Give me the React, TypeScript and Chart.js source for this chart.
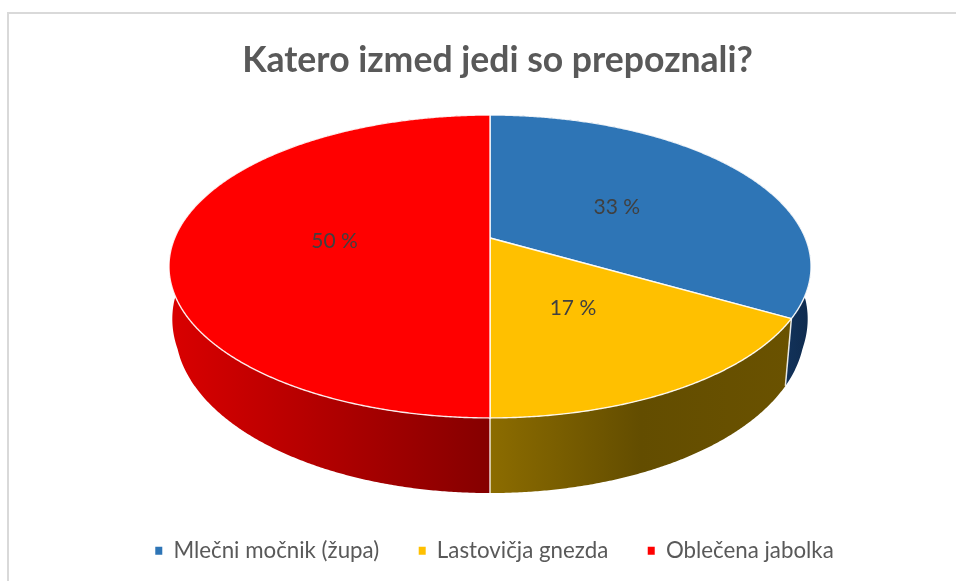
import React, { useEffect, useRef } from "react";
import { Chart, registerables } from "chart.js";

Chart.register(...registerables);

const categories = ["Mlečni močnik (župa)", "Lastovičja gnezda", "Oblečena jabolka"];
const shares = [33.33, 16.67, 50];
const sliceColors = ["#2E75B6", "#FFC000", "#FF0000"];
const wallStops = [
  [[0, "#12325A"], [1, "#0F2B4E"]],
  [[0, "#8C6C00"], [0.5, "#634D00"], [1, "#6A5200"]],
  [[0, "#DA0000"], [1, "#850000"]],
];
const wallSpans = [[786, 810], [490, 792], [168, 490]];

const TITLE = "Katero izmed jedi so prepoznali?";
const CX = 490;
const CY = 238;
const AX = 315.3;
const AY = 146.1;
const K = 0.188;
const DEPTH = 61;
const SHRINK = 0.02;
const LABEL_R = 0.49;

function project(theta: number, r: number, depth: number) {
  const u = Math.cos(theta) * r;
  const v = -Math.sin(theta) * r;
  const w = 1 + K * v;
  const s = 1 - (SHRINK * Math.min(1, Math.abs(v) / 0.3) * depth) / DEPTH;
  return { x: CX + ((AX * u) / w) * s, y: CY - (AY * v - depth) / w };
}

function edge(start: number, end: number, depth: number) {
  const n = Math.max(2, Math.ceil(Math.abs(end - start) / 0.006));
  const pts = [];
  for (let i = 0; i <= n; i++) pts.push(project(start + ((end - start) * i) / n, 1, depth));
  return pts;
}

const perspectivePie = {
  id: "perspectivePie",
  afterLayout(chart: any) {
    chart.legend.left -= 3;
    chart.legend.right -= 3;
  },
  beforeDraw(chart: any) {
    const { ctx } = chart;
    ctx.save();
    ctx.strokeStyle = "#D9D9D9";
    ctx.lineWidth = 2;
    ctx.strokeRect(8, 13, 1100, 800);
    ctx.restore();
  },
  beforeDatasetsDraw(chart: any) {
    const { ctx } = chart;
    const arcs = chart.getDatasetMeta(0).data;
    ctx.save();
    arcs.forEach((arc: any, i: number) => {
      const top = edge(arc.startAngle, arc.endAngle, 0);
      const bottom = edge(arc.startAngle, arc.endAngle, DEPTH).reverse();
      const g = ctx.createLinearGradient(wallSpans[i][0], 0, wallSpans[i][1], 0);
      wallStops[i].forEach((s: any) => g.addColorStop(s[0], s[1]));
      ctx.beginPath();
      [...top, ...bottom].forEach((p, j) => (j ? ctx.lineTo(p.x, p.y) : ctx.moveTo(p.x, p.y)));
      ctx.closePath();
      ctx.fillStyle = g;
      ctx.fill();
    });
    // Radial seams visible on the wall
    arcs.forEach((arc: any) => {
      const a = project(arc.endAngle, 1, 0);
      const b = project(arc.endAngle, 1, DEPTH);
      if (Math.sin(arc.endAngle) > 0.1) {
        ctx.beginPath();
        ctx.moveTo(a.x, a.y);
        ctx.lineTo(b.x, b.y);
        ctx.strokeStyle = "rgba(255,255,255,0.85)";
        ctx.lineWidth = 1.5;
        ctx.stroke();
      }
    });
    arcs.forEach((arc: any) => {
      const c = project(0, 0, 0);
      const rim = edge(arc.startAngle, arc.endAngle, 0);
      ctx.beginPath();
      ctx.moveTo(c.x, c.y);
      rim.forEach((p) => ctx.lineTo(p.x, p.y));
      ctx.closePath();
      ctx.fillStyle = arc.options.backgroundColor;
      ctx.fill();
      ctx.strokeStyle = "rgba(255,255,255,0.9)";
      ctx.lineWidth = 1.4;
      ctx.lineJoin = "round";
      ctx.stroke();
    });
    ctx.font = "21px Lato";
    ctx.fillStyle = "#404040";
    ctx.textAlign = "center";
    ctx.textBaseline = "middle";
    arcs.forEach((arc: any, i: number) => {
      const mid = (arc.startAngle + arc.endAngle) / 2;
      const p = project(mid, LABEL_R, 0);
      ctx.fillText(`${Math.round(shares[i])} %`, p.x - 1, p.y + 3);
    });
    ctx.restore();
    return false;
  },
};

export default function App() {
  const ref = useRef<HTMLCanvasElement>(null);
  useEffect(() => {
    const chart = new Chart(ref.current!, {
      type: "pie",
      data: {
        labels: categories,
        datasets: [{ data: shares, backgroundColor: sliceColors, borderWidth: 0 }],
      },
      options: {
        responsive: false,
        animation: false,
        layout: { padding: { left: 39, right: 0, top: 0, bottom: 9 } },
        plugins: {
          title: {
            display: true,
            text: TITLE,
            color: "#595959",
            font: { family: "Lato", size: 35.6, weight: "bold" },
            padding: { top: 39, bottom: 10 },
          },
          legend: {
            position: "bottom",
            labels: {
              boxWidth: 7,
              boxHeight: 8,
              padding: 39.5,
              color: "#595959",
              font: { family: "Lato", size: 22.3 },
            },
          },
          tooltip: { enabled: false },
        },
      },
      plugins: [perspectivePie],
    } as any);
    return () => chart.destroy();
  }, []);
  return (
    <canvas
      ref={ref}
      width={956}
      height={581}
      style={{ position: "fixed", left: 0, top: 0, display: "block" }}
    />
  );
}
